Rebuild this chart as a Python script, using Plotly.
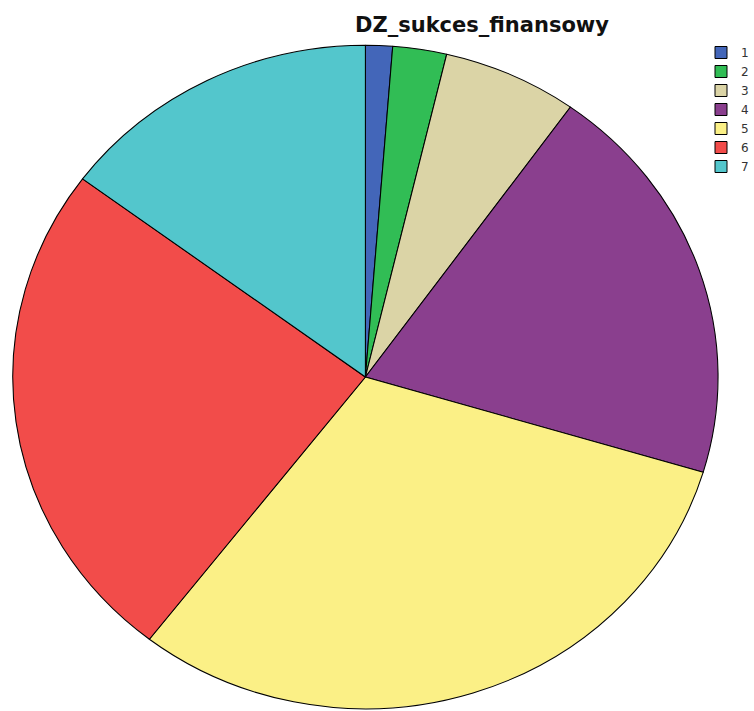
import plotly.graph_objects as go

labels = ["1", "2", "3", "4", "5", "6", "7"]
counts = [1, 2, 5, 16, 25, 20, 12]
colors = ["#4366b9", "#31bd55", "#dbd4a6", "#8a3f8e", "#fbf086", "#f24c4a", "#53c6cc"]

W, H = 754, 711
cx, cy, r = 368, 377, 334
k = 355 / 334  # horizontal stretch of the reference pie (ellipse)

fig = go.Figure(go.Pie(
    labels=labels,
    values=counts,
    sort=False,
    direction="clockwise",
    rotation=0,
    marker=dict(colors=colors, line=dict(color="#000000", width=1)),
    textinfo="none",
    hoverinfo="label+value+percent",
    domain=dict(x=[(cx - r) / W, (cx + r) / W], y=[1 - (cy + r) / H, 1 - (cy - r) / H]),
))

fig.update_layout(
    width=W, height=H,
    margin=dict(l=0, r=0, t=0, b=0),
    paper_bgcolor="white",
    title=dict(text="<b>DZ_sukces_finansowy</b>", x=482 / W, xanchor="center", y=1 - 25 / H, yanchor="middle",
               font=dict(family="DejaVu Sans", size=21, color="#111111")),
    legend=dict(x=706 / W, xanchor="left", y=1 - 38 / H, yanchor="top",
                font=dict(family="DejaVu Sans", size=12, color="#333333"),
                bgcolor="rgba(0,0,0,0)", tracegroupgap=0),
    showlegend=True,
)

post = """
var gd = document.getElementById('{plot_id}');
var k = %f, cx = %f;
gd.querySelectorAll('.pielayer').forEach(function(el){
  el.setAttribute('transform', 'translate(' + (cx*(1-k)) + ',0) scale(' + k + ',1)');
});
""" % (k, cx)

fig.write_html("out.html", post_script=post)
